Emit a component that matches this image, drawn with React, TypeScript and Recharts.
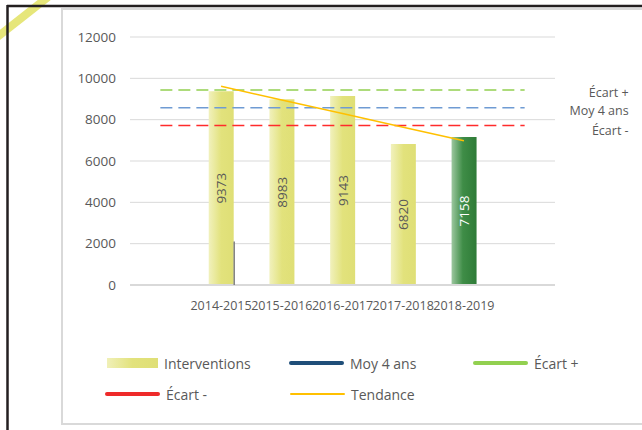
import React from "react";
import {
  ComposedChart,
  Bar,
  Line,
  XAxis,
  YAxis,
  CartesianGrid,
  LabelList,
  Cell,
} from "recharts";

// Empty first/last slots so the reference lines run past the bars, as in the Excel chart
const categories = ["", "2014-2015", "2015-2016", "2016-2017", "2017-2018", "2018-2019", ""];
const interventions = [null, 9373, 8983, 9143, 6820, 7158, null];
const moy4ans = [8580, 8580, 8580, 8580, 8580, 8580, 8580];
const ecartPlus = [9438, 9438, 9438, 9438, 9438, 9438, 9438];
const ecartMoins = [7722, 7722, 7722, 7722, 7722, 7722, 7722];
const tendance = [null, 9614, 8955, 8295, 7636, 6977, null];
const yTicks = [0, 2000, 4000, 6000, 8000, 10000, 12000];
// stray vertical mark in the screenshot, along the right edge of the first bar
const strayMark = 2100;

const data = categories.map((cat, i) => ({
  cat,
  interventions: interventions[i],
  moy: moy4ans[i],
  plus: ecartPlus[i],
  moins: ecartMoins[i],
  trend: tendance[i],
}));

const FONT = "'Open Sans', 'Noto Sans', sans-serif";
const TEXT = "#595959";

function pos(props: any) {
  const vb = props.viewBox || {};
  return {
    x: vb.x ?? props.x,
    y: vb.y ?? props.y,
    width: vb.width ?? props.width ?? 0,
    height: vb.height ?? props.height ?? 0,
  };
}

function BarValue(props: any) {
  const { value } = props;
  if (value == null) return null;
  const { x, y, width, height } = pos(props);
  const cx = x + width / 2;
  const cy = y + height / 2;
  const idx = interventions.indexOf(value);
  const isLast = idx === interventions.length - 2;
  const bottom = y + height;
  return (
    <g>
      {idx === 1 && (
        <line
          x1={x + width + 0.5}
          y1={bottom - (height * strayMark) / value}
          x2={x + width + 0.5}
          y2={bottom}
          stroke="#808080"
          strokeWidth={1.5}
        />
      )}
      <text
        x={cx}
        y={cy}
        transform={`rotate(-90, ${cx}, ${cy})`}
        textAnchor="middle"
        dominantBaseline="central"
        fontSize={13.5}
        fontFamily={FONT}
        fill={isLast ? "#ffffff" : TEXT}
      >
        {value}
      </text>
    </g>
  );
}

function endLabel(text: string, dy: number) {
  return (props: any) => {
    if (props.index !== categories.length - 1) return null;
    const { x, y } = pos(props);
    return (
      <text
        x={x + 104}
        y={y + dy}
        textAnchor="end"
        dominantBaseline="central"
        fontSize={12.5}
        fontFamily={FONT}
        fill={TEXT}
      >
        {text}
      </text>
    );
  };
}

const legendItems = [
  { name: "Interventions", kind: "box", color: "", left: 107, top: 363 },
  { name: "Moy 4 ans", kind: "line", color: "#1f4e79", left: 289, top: 363 },
  { name: "Écart +", kind: "line", color: "#92d050", left: 473, top: 363 },
  { name: "Écart -", kind: "line", color: "#ee2a2a", left: 105, top: 394 },
  { name: "Tendance", kind: "thin", color: "#ffc000", left: 290, top: 394 },
];

function ChartLegend() {
  return (
    <>
      {legendItems.map((it) => (
        <div
          key={it.name}
          style={{
            position: "absolute",
            left: it.left,
            top: it.top - 10,
            height: 20,
            display: "flex",
            alignItems: "center",
            fontFamily: FONT,
            fontSize: 14,
            color: TEXT,
            whiteSpace: "nowrap",
          }}
        >
          {it.kind === "box" ? (
            <div
              style={{
                width: 51,
                height: 10,
                background: "linear-gradient(to right, #f0f0b8, #e2e27c 50%, #dfdf76)",
              }}
            />
          ) : (
            <div
              style={{
                width: 55,
                height: it.kind === "thin" ? 1.5 : 4,
                borderRadius: 2,
                background: it.color,
              }}
            />
          )}
          <span style={{ marginLeft: 6 }}>{it.name}</span>
        </div>
      ))}
    </>
  );
}

export default function App() {
  return (
    <div
      style={{
        position: "absolute",
        left: 0,
        top: 0,
        width: 642,
        height: 430,
        background: "#fff",
        overflow: "hidden",
      }}
    >
      {/* highlighter stroke + frames from the screenshot */}
      <svg width={642} height={430} style={{ position: "absolute", left: 0, top: 0 }}>
        <line x1={-4} y1={38} x2={48} y2={-3} stroke="#e6e67a" strokeWidth={8} />
        <rect x={62} y={9} width={600} height={415} fill="none" stroke="#d9d9d9" strokeWidth={2} />
        <line x1={7} y1={6} x2={642} y2={6} stroke="#231f20" strokeWidth={2.5} />
        <line x1={7.5} y1={5} x2={7.5} y2={430} stroke="#231f20" strokeWidth={2.5} />
      </svg>
      <div style={{ position: "absolute", left: 0, top: 0 }}>
        <ComposedChart
          width={642}
          height={430}
          data={data}
          margin={{ top: 37, right: 87, left: 60, bottom: 115 }}
          barSize={25}
        >
          <defs>
            <linearGradient id="barYellow" x1="0" y1="0" x2="1" y2="0">
              <stop offset="0%" stopColor="#f1f1bd" />
              <stop offset="50%" stopColor="#e2e27c" />
              <stop offset="100%" stopColor="#dfdf76" />
            </linearGradient>
            <linearGradient id="barGreen" x1="0" y1="0" x2="1" y2="0">
              <stop offset="0%" stopColor="#9cc79f" />
              <stop offset="45%" stopColor="#3f8d47" />
              <stop offset="100%" stopColor="#2e7b37" />
            </linearGradient>
          </defs>
          <CartesianGrid vertical={false} stroke="#d9d9d9" strokeWidth={1} />
          <XAxis
            dataKey="cat"
            height={30}
            interval={0}
            tickLine={false}
            tickSize={6}
            tickMargin={10}
            axisLine={{ stroke: "#d9d9d9", strokeWidth: 2 }}
            tick={{ fontSize: 12.5, fill: TEXT, fontFamily: FONT }}
          />
          <YAxis
            width={70}
            domain={[0, 12000]}
            ticks={yTicks}
            interval={0}
            axisLine={false}
            tickLine={false}
            tickSize={6}
            tickMargin={8}
            tick={{ fontSize: 13.5, fill: TEXT, fontFamily: FONT }}
          />
          <Bar dataKey="interventions" isAnimationActive={false}>
            {data.map((_, i) => (
              <Cell key={i} fill={i === 5 ? "url(#barGreen)" : "url(#barYellow)"} />
            ))}
            <LabelList dataKey="interventions" content={BarValue} />
          </Bar>
          <Line
            dataKey="plus"
            stroke="#92d050"
            strokeWidth={1.5}
            strokeDasharray="12 6"
            dot={false}
            activeDot={false}
            isAnimationActive={false}
          >
            <LabelList dataKey="plus" content={endLabel("Écart +", 2.5)} />
          </Line>
          <Line
            dataKey="moy"
            stroke="#6f9bd3"
            strokeWidth={1.5}
            strokeDasharray="12 6"
            dot={false}
            activeDot={false}
            isAnimationActive={false}
          >
            <LabelList dataKey="moy" content={endLabel("Moy 4 ans", 2.5)} />
          </Line>
          <Line
            dataKey="moins"
            stroke="#ff2b2b"
            strokeWidth={1.5}
            strokeDasharray="12 6"
            dot={false}
            activeDot={false}
            isAnimationActive={false}
          >
            <LabelList dataKey="moins" content={endLabel("Écart -", 5)} />
          </Line>
          <Line
            dataKey="trend"
            stroke="#ffc000"
            strokeWidth={1.5}
            dot={false}
            activeDot={false}
            isAnimationActive={false}
          />
        </ComposedChart>
      </div>
      <ChartLegend />
    </div>
  );
}
